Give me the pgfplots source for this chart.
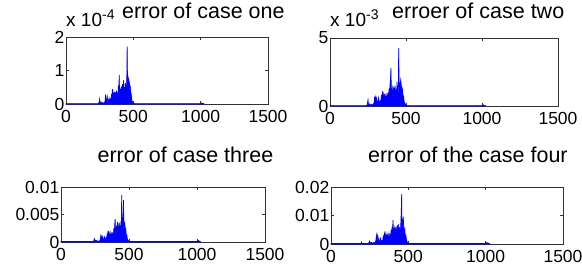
\documentclass[border=0pt]{standalone}
\usepackage{fontspec}
\setmainfont{Liberation Sans}
\usepackage{pgfplots}
\usepackage{pgfplotstable}
\pgfplotsset{compat=1.18}
\definecolor{mblue}{RGB}{0,0,255}
\pgfplotstableread{
x c1 c2 c3 c4
0 1e-6 2e-5 0.0001 0.0002
195 1e-6 2e-5 0.0001 0.0002
198 1e-6 2e-5 0.0001 0.0007
201 1e-6 2e-5 0.0001 0.0002
240 1e-6 2e-5 0.0001 0.0002
245 0.04e-4 0.10e-3 0.0006 0.0004
250 0.15e-4 0.45e-3 0.0003 0.0010
253 0.03e-4 0.08e-3 0.0002 0.0003
260 0.06e-4 0.15e-3 0.0003 0.0006
266 0.02e-4 0.05e-3 0.0001 0.0002
274 0.04e-4 0.12e-3 0.0002 0.0005
282 0.02e-4 0.06e-3 0.0001 0.0003
290 0.08e-4 0.25e-3 0.0005 0.0012
294 0.28e-4 0.70e-3 0.0014 0.0030
298 0.05e-4 0.15e-3 0.0003 0.0008
302 0.12e-4 0.70e-3 0.0008 0.0030
306 0.22e-4 0.55e-3 0.0010 0.0018
310 0.04e-4 0.12e-3 0.0002 0.0006
316 0.10e-4 0.40e-3 0.0006 0.0015
320 0.18e-4 0.60e-3 0.0009 0.0020
324 0.06e-4 0.15e-3 0.0003 0.0007
330 0.14e-4 0.35e-3 0.0007 0.0012
334 0.08e-4 0.20e-3 0.0004 0.0008
338 0.30e-4 0.80e-3 0.0012 0.0030
341 0.10e-4 0.25e-3 0.0005 0.0010
345 0.44e-4 1.05e-3 0.0016 0.0035
349 0.12e-4 1.00e-3 0.0008 0.0042
352 0.25e-4 0.55e-3 0.0020 0.0025
355 0.32e-4 0.85e-3 0.0012 0.0030
358 0.15e-4 0.30e-3 0.0006 0.0012
362 0.35e-4 0.90e-3 0.0015 0.0032
365 0.20e-4 0.45e-3 0.0008 0.0018
368 0.28e-4 0.75e-3 0.0012 0.0028
371 0.12e-4 0.30e-3 0.0005 0.0012
375 0.40e-4 0.95e-3 0.0018 0.0035
378 0.22e-4 0.50e-3 0.0010 0.0020
382 0.30e-4 0.80e-3 0.0014 0.0030
385 0.18e-4 0.40e-3 0.0008 0.0016
389 0.55e-4 1.30e-3 0.0025 0.0050
392 0.25e-4 0.60e-3 0.0012 0.0025
395 0.87e-4 1.60e-3 0.0030 0.0060
398 0.30e-4 2.00e-3 0.0042 0.0045
401 0.45e-4 2.80e-3 0.0020 0.0084
404 0.20e-4 0.70e-3 0.0012 0.0030
407 0.38e-4 1.10e-3 0.0025 0.0045
410 0.52e-4 1.30e-3 0.0030 0.0055
413 0.25e-4 0.60e-3 0.0015 0.0025
416 0.40e-4 1.00e-3 0.0036 0.0040
419 0.60e-4 1.40e-3 0.0025 0.0060
422 0.30e-4 0.70e-3 0.0015 0.0030
425 0.48e-4 1.10e-3 0.0028 0.0050
428 0.71e-4 1.50e-3 0.0035 0.0065
431 0.35e-4 0.80e-3 0.0018 0.0035
435 0.50e-4 1.20e-3 0.0030 0.0070
438 0.28e-4 0.65e-3 0.0015 0.0030
441 0.62e-4 1.80e-3 0.0038 0.0060
444 0.40e-4 0.90e-3 0.0020 0.0040
446 0.55e-4 1.30e-3 0.0085 0.0055
449 0.30e-4 0.70e-3 0.0030 0.0030
452 0.90e-4 4.26e-3 0.0045 0.0080
454 1.72e-4 2.00e-3 0.0035 0.0110
457 0.60e-4 1.20e-3 0.0030 0.0175
459 0.45e-4 1.00e-3 0.0076 0.0050
462 0.70e-4 1.60e-3 0.0040 0.0070
465 0.76e-4 1.90e-3 0.0035 0.0080
467 0.50e-4 1.70e-3 0.0025 0.0096
470 0.68e-4 1.40e-3 0.0030 0.0060
474 0.40e-4 1.00e-3 0.0018 0.0040
477 0.55e-4 1.20e-3 0.0022 0.0050
480 0.25e-4 0.60e-3 0.0010 0.0025
484 0.30e-4 0.70e-3 0.0012 0.0030
488 0.12e-4 0.30e-3 0.0005 0.0012
492 0.08e-4 0.20e-3 0.0003 0.0008
496 0.04e-4 0.10e-3 0.0002 0.0004
500 0.02e-4 0.05e-3 0.0001 0.0002
510 1e-6 2e-5 0.0001 0.0002
1000 1e-6 2e-5 0.0001 0.0002
1008 0.03e-4 0.08e-3 0.0003 0.0005
1012 0.02e-4 0.04e-3 0.0002 0.0003
1025 1e-6 2e-5 0.0001 0.0002
}\errdata
\pgfplotsset{
  mstyle/.style={
    scale only axis,
    anchor=south west,
    xmin=0, xmax=1500,
    xtick={0,500,1000,1500},
    xticklabels={0,500,1000,1500},
    ymin=0,
    scaled x ticks=false, scaled y ticks=false,
    tick align=inside,
    xtick pos=both, ytick pos=both,
    major tick length=3pt,
    axis line style={black!80, line width=0.6pt},
    every tick/.style={black!80, line width=0.5pt},
    tick label style={font=\fontsize{17.5}{17.5}\selectfont},
    /pgf/number format/assume math mode=true,
    yticklabel style={inner sep=1.5pt},
    xticklabel style={inner sep=1pt, yshift=-5pt},
    clip=false,
  },
  mplot/.style={mblue, line width=0.7pt, fill=mblue, fill opacity=1},
}
\begin{document}
\begin{tikzpicture}[x=1pt,y=1pt]
\useasboundingbox (0,0) rectangle (582,268);
% panel 1
\begin{axis}[mstyle, at={(66pt,164pt)}, width=202pt, height=67pt,
  ymax=2e-4, ytick={0,1e-4,2e-4}, yticklabels={0,1,2},
  title={error of case one},
  title style={at={(0.68,1)}, anchor=base, yshift=12pt, inner sep=0pt, font=\fontsize{21.5}{21.5}\selectfont}]
\addplot[mplot] table[x=x,y=c1] {\errdata} \closedcycle;
\node[anchor=base west, inner sep=0pt, font=\fontsize{19}{19}\selectfont] at (rel axis cs:0,1) [yshift=10pt] {x 10\raisebox{7pt}{\fontsize{14}{14}\selectfont -4}};
\end{axis}
% panel 2
\begin{axis}[mstyle, at={(330pt,162pt)}, width=228pt, height=68pt,
  ymax=5e-3, ytick={0,5e-3}, yticklabels={0,5},
  title={erroer of case two},
  title style={at={(0.65,1)}, anchor=base, yshift=13pt, inner sep=0pt, font=\fontsize{21.5}{21.5}\selectfont}]
\addplot[mplot] table[x=x,y=c2] {\errdata} \closedcycle;
\node[anchor=base west, inner sep=0pt, font=\fontsize{19}{19}\selectfont] at (rel axis cs:0,1) [yshift=11pt] {x 10\raisebox{7pt}{\fontsize{14}{14}\selectfont -3}};
\end{axis}
% panel 3
\begin{axis}[mstyle, at={(61pt,26pt)}, width=204pt, height=55pt,
  ymax=0.01, ytick={0,0.005,0.01}, yticklabels={0,0.005,0.01},
  title={error of case three},
  title style={at={(0.61,1)}, anchor=base, yshift=18pt, inner sep=0pt, font=\fontsize{21.5}{21.5}\selectfont}]
\addplot[mplot] table[x=x,y=c3] {\errdata} \closedcycle;
\end{axis}
% panel 4
\begin{axis}[mstyle, at={(331pt,24pt)}, width=232pt, height=57pt,
  ymax=0.02, ytick={0,0.01,0.02}, yticklabels={0,0.01,0.02},
  title={error of the case four},
  title style={at={(0.59,1)}, anchor=base, yshift=18pt, inner sep=0pt, font=\fontsize{21.5}{21.5}\selectfont}]
\addplot[mplot] table[x=x,y=c4] {\errdata} \closedcycle;
\end{axis}
\end{tikzpicture}
\end{document}
